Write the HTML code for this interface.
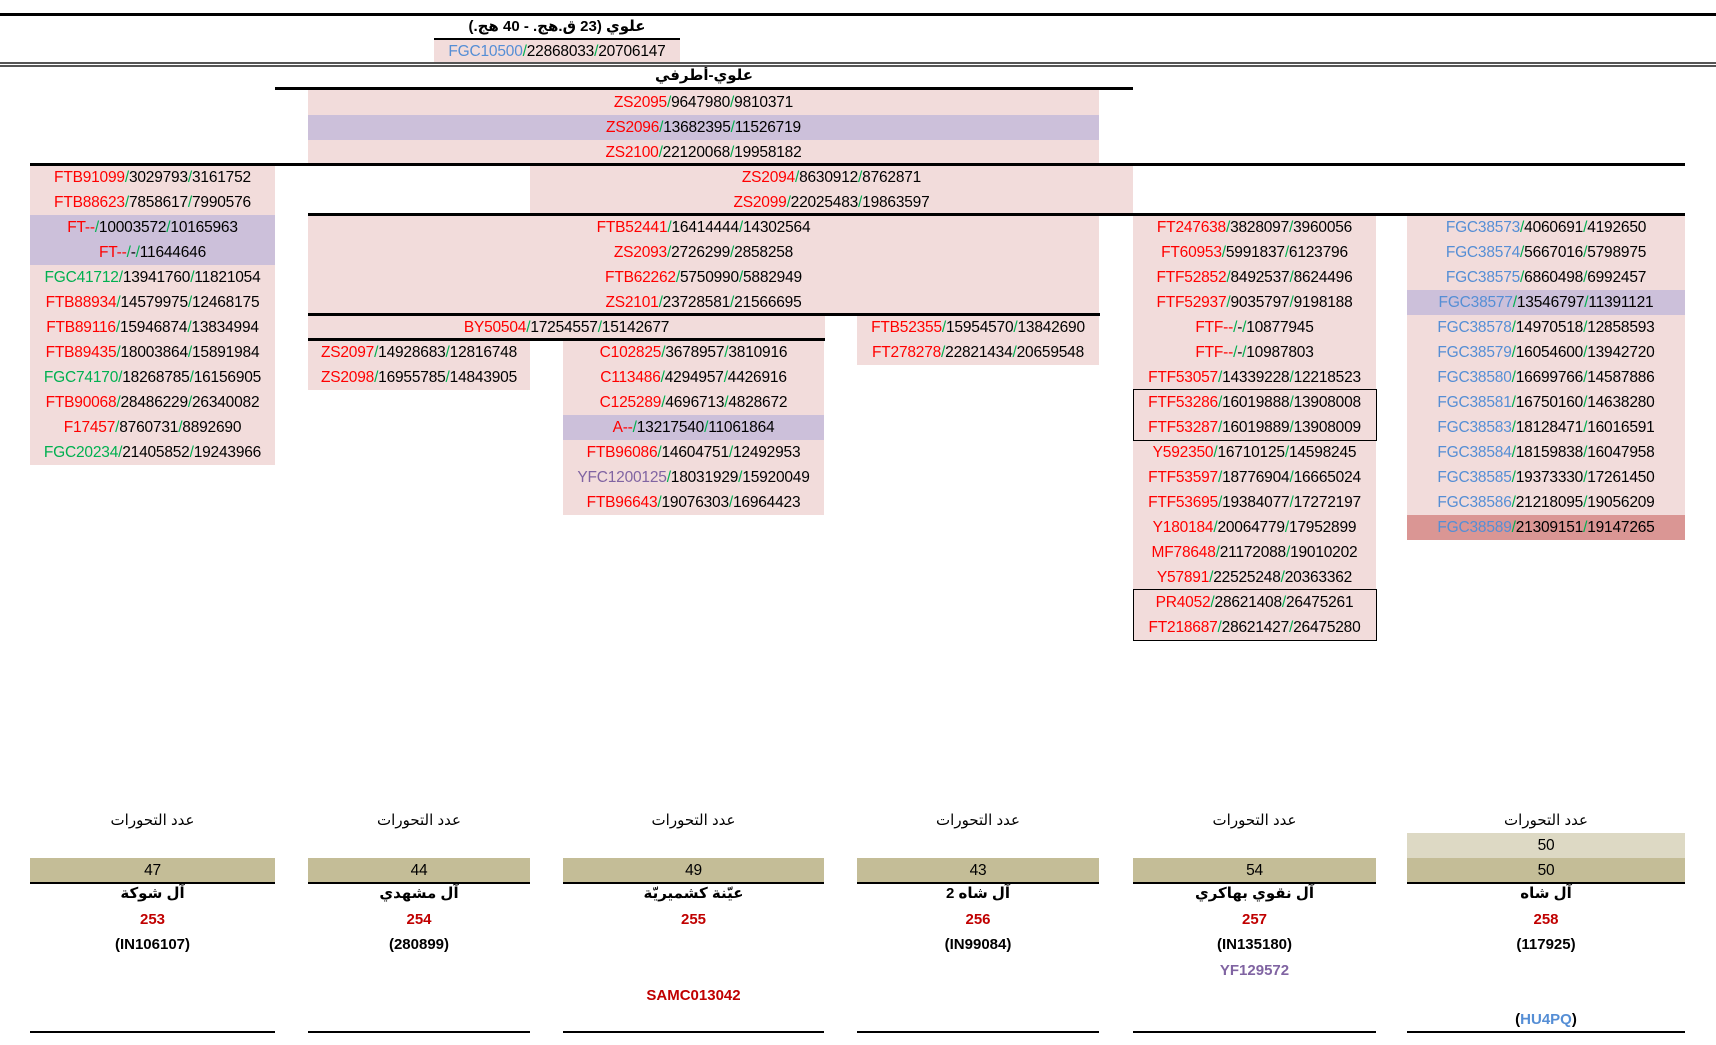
<!DOCTYPE html>
<html><head><meta charset="utf-8"><style>
body{margin:0;width:1716px;height:1045px;background:#fff;position:relative;overflow:hidden;font-family:"Liberation Sans",sans-serif;}
.c{position:absolute;height:25px;line-height:25px;text-align:center;font-size:15.5px;color:#000;white-space:nowrap;background:#f2dcdb;letter-spacing:-0.2px}
.p{background:#ccc0da}.d{background:#da9694}.w{background:transparent}
b{font-weight:normal;color:#ff0000}b.u{color:#558ed5}b.v{color:#8064a2}
i{font-style:normal;color:#00b050}
.k1{left:30px;width:245px}.k2{left:308px;width:222px}.k3{left:563px;width:261px}.k4{left:857px;width:242px}.k5{left:1133px;width:243px}.k6{left:1407px;width:278px}
.L{position:absolute;background:#000;height:3px;z-index:2}
.t{position:absolute;text-align:center;font-weight:bold;font-size:15px;white-space:nowrap;font-family:"Liberation Sans","DejaVu Sans",sans-serif}
.bx{position:absolute;border:1.5px solid #000;box-sizing:border-box;z-index:2}
</style></head><body>
<div class="L" style="left:0;top:13px;width:1716px"></div>
<div class="t" style="left:434px;width:246px;top:16px;line-height:22px">علوي (23 ق.هج. - 40 هج.)</div>
<div class="L" style="left:434px;top:38px;width:246px;height:2px"></div>
<div class="c" style="left:434px;width:246px;top:40px;height:23px;line-height:23px"><b class=u>FGC10500</b><i>/</i>22868033<i>/</i>20706147</div>
<div class="L" style="left:0;top:62px;width:1716px;height:1.5px;background:#555"></div>
<div class="L" style="left:0;top:65px;width:1716px;height:1.5px;background:#555"></div>
<div class="t" style="left:275px;width:858px;top:65px;line-height:22px">علوي-أطرفي</div>
<div class="L" style="left:275px;top:87px;width:858px"></div>

<div class="c" style="left:308px;width:791px;top:90px"><b>ZS2095</b><i>/</i>9647980<i>/</i>9810371</div>
<div class="c p" style="left:308px;width:791px;top:115px"><b>ZS2096</b><i>/</i>13682395<i>/</i>11526719</div>
<div class="c" style="left:308px;width:791px;top:140px"><b>ZS2100</b><i>/</i>22120068<i>/</i>19958182</div>
<div class="L" style="left:30px;top:163px;width:1655px"></div>
<div class="c" style="left:530px;width:603px;top:165px"><b>ZS2094</b><i>/</i>8630912<i>/</i>8762871</div>
<div class="c" style="left:530px;width:603px;top:190px"><b>ZS2099</b><i>/</i>22025483<i>/</i>19863597</div>
<div class="L" style="left:308px;top:213px;width:1377px"></div>
<div class="c" style="left:308px;width:791px;top:215px"><b>FTB52441</b><i>/</i>16414444<i>/</i>14302564</div>
<div class="c" style="left:308px;width:791px;top:240px"><b>ZS2093</b><i>/</i>2726299<i>/</i>2858258</div>
<div class="c" style="left:308px;width:791px;top:265px"><b>FTB62262</b><i>/</i>5750990<i>/</i>5882949</div>
<div class="c" style="left:308px;width:791px;top:290px"><b>ZS2101</b><i>/</i>23728581<i>/</i>21566695</div>
<div class="L" style="left:308px;top:313px;width:792px"></div>
<div class="c" style="left:308px;width:517px;top:315px"><b>BY50504</b><i>/</i>17254557<i>/</i>15142677</div>
<div class="L" style="left:308px;top:338px;width:517px"></div>

<div class="c k1" style="top:165px"><b>FTB91099</b><i>/</i>3029793<i>/</i>3161752</div>
<div class="c k1" style="top:190px"><b>FTB88623</b><i>/</i>7858617<i>/</i>7990576</div>
<div class="c k1 p" style="top:215px"><b>FT--</b><i>/</i>10003572<i>/</i>10165963</div>
<div class="c k1 p" style="top:240px"><b>FT--</b><i>/</i>-<i>/</i>11644646</div>
<div class="c k1" style="top:265px"><b style="color:#00b050">FGC41712</b><i>/</i>13941760<i>/</i>11821054</div>
<div class="c k1" style="top:290px"><b>FTB88934</b><i>/</i>14579975<i>/</i>12468175</div>
<div class="c k1" style="top:315px"><b>FTB89116</b><i>/</i>15946874<i>/</i>13834994</div>
<div class="c k1" style="top:340px"><b>FTB89435</b><i>/</i>18003864<i>/</i>15891984</div>
<div class="c k1" style="top:365px"><b style="color:#00b050">FGC74170</b><i>/</i>18268785<i>/</i>16156905</div>
<div class="c k1" style="top:390px"><b>FTB90068</b><i>/</i>28486229<i>/</i>26340082</div>
<div class="c k1" style="top:415px"><b>F17457</b><i>/</i>8760731<i>/</i>8892690</div>
<div class="c k1" style="top:440px"><b style="color:#00b050">FGC20234</b><i>/</i>21405852<i>/</i>19243966</div>

<div class="c k2" style="top:340px"><b>ZS2097</b><i>/</i>14928683<i>/</i>12816748</div>
<div class="c k2" style="top:365px"><b>ZS2098</b><i>/</i>16955785<i>/</i>14843905</div>

<div class="c k3" style="top:340px"><b>C102825</b><i>/</i>3678957<i>/</i>3810916</div>
<div class="c k3" style="top:365px"><b>C113486</b><i>/</i>4294957<i>/</i>4426916</div>
<div class="c k3" style="top:390px"><b>C125289</b><i>/</i>4696713<i>/</i>4828672</div>
<div class="c k3 p" style="top:415px"><b>A--</b><i>/</i>13217540<i>/</i>11061864</div>
<div class="c k3" style="top:440px"><b>FTB96086</b><i>/</i>14604751<i>/</i>12492953</div>
<div class="c k3" style="top:465px"><b class=v>YFC1200125</b><i>/</i>18031929<i>/</i>15920049</div>
<div class="c k3" style="top:490px"><b>FTB96643</b><i>/</i>19076303<i>/</i>16964423</div>

<div class="c k4" style="top:315px"><b>FTB52355</b><i>/</i>15954570<i>/</i>13842690</div>
<div class="c k4" style="top:340px"><b>FT278278</b><i>/</i>22821434<i>/</i>20659548</div>

<div class="c k5" style="top:215px"><b>FT247638</b><i>/</i>3828097<i>/</i>3960056</div>
<div class="c k5" style="top:240px"><b>FT60953</b><i>/</i>5991837<i>/</i>6123796</div>
<div class="c k5" style="top:265px"><b>FTF52852</b><i>/</i>8492537<i>/</i>8624496</div>
<div class="c k5" style="top:290px"><b>FTF52937</b><i>/</i>9035797<i>/</i>9198188</div>
<div class="c k5" style="top:315px"><b>FTF--</b><i>/</i>-<i>/</i>10877945</div>
<div class="c k5" style="top:340px"><b>FTF--</b><i>/</i>-<i>/</i>10987803</div>
<div class="c k5" style="top:365px"><b>FTF53057</b><i>/</i>14339228<i>/</i>12218523</div>
<div class="c k5" style="top:390px"><b>FTF53286</b><i>/</i>16019888<i>/</i>13908008</div>
<div class="c k5" style="top:415px"><b>FTF53287</b><i>/</i>16019889<i>/</i>13908009</div>
<div class="c k5" style="top:440px"><b>Y592350</b><i>/</i>16710125<i>/</i>14598245</div>
<div class="c k5" style="top:465px"><b>FTF53597</b><i>/</i>18776904<i>/</i>16665024</div>
<div class="c k5" style="top:490px"><b>FTF53695</b><i>/</i>19384077<i>/</i>17272197</div>
<div class="c k5" style="top:515px"><b>Y180184</b><i>/</i>20064779<i>/</i>17952899</div>
<div class="c k5" style="top:540px"><b>MF78648</b><i>/</i>21172088<i>/</i>19010202</div>
<div class="c k5" style="top:565px"><b>Y57891</b><i>/</i>22525248<i>/</i>20363362</div>
<div class="c k5" style="top:590px"><b>PR4052</b><i>/</i>28621408<i>/</i>26475261</div>
<div class="c k5" style="top:615px"><b>FT218687</b><i>/</i>28621427<i>/</i>26475280</div>
<div class="bx" style="left:1133px;top:389px;width:244px;height:52px"></div>
<div class="bx" style="left:1133px;top:589px;width:244px;height:52px"></div>

<div class="c k6" style="top:215px"><b class=u>FGC38573</b><i>/</i>4060691<i>/</i>4192650</div>
<div class="c k6" style="top:240px"><b class=u>FGC38574</b><i>/</i>5667016<i>/</i>5798975</div>
<div class="c k6" style="top:265px"><b class=u>FGC38575</b><i>/</i>6860498<i>/</i>6992457</div>
<div class="c k6 p" style="top:290px"><b class=u>FGC38577</b><i>/</i>13546797<i>/</i>11391121</div>
<div class="c k6" style="top:315px"><b class=u>FGC38578</b><i>/</i>14970518<i>/</i>12858593</div>
<div class="c k6" style="top:340px"><b class=u>FGC38579</b><i>/</i>16054600<i>/</i>13942720</div>
<div class="c k6" style="top:365px"><b class=u>FGC38580</b><i>/</i>16699766<i>/</i>14587886</div>
<div class="c k6" style="top:390px"><b class=u>FGC38581</b><i>/</i>16750160<i>/</i>14638280</div>
<div class="c k6" style="top:415px"><b class=u>FGC38583</b><i>/</i>18128471<i>/</i>16016591</div>
<div class="c k6" style="top:440px"><b class=u>FGC38584</b><i>/</i>18159838<i>/</i>16047958</div>
<div class="c k6" style="top:465px"><b class=u>FGC38585</b><i>/</i>19373330<i>/</i>17261450</div>
<div class="c k6" style="top:490px"><b class=u>FGC38586</b><i>/</i>21218095<i>/</i>19056209</div>
<div class="c k6 d" style="top:515px"><b class=u>FGC38589</b><i>/</i>21309151<i>/</i>19147265</div>

<div class="c k1 w t" style="top:808px;font-weight:normal">عدد التحورات</div>
<div class="c k2 w t" style="top:808px;font-weight:normal">عدد التحورات</div>
<div class="c k3 w t" style="top:808px;font-weight:normal">عدد التحورات</div>
<div class="c k4 w t" style="top:808px;font-weight:normal">عدد التحورات</div>
<div class="c k5 w t" style="top:808px;font-weight:normal">عدد التحورات</div>
<div class="c k6 w t" style="top:808px;font-weight:normal">عدد التحورات</div>
<div class="c k6" style="top:833px;background:#ddd9c4">50</div>
<div class="c k1" style="top:858px;background:#c4bd97">47</div>
<div class="c k2" style="top:858px;background:#c4bd97">44</div>
<div class="c k3" style="top:858px;background:#c4bd97">49</div>
<div class="c k4" style="top:858px;background:#c4bd97">43</div>
<div class="c k5" style="top:858px;background:#c4bd97">54</div>
<div class="c k6" style="top:858px;background:#c4bd97">50</div>
<div class="L k1" style="top:882px;height:2px"></div>
<div class="L k2" style="top:882px;height:2px"></div>
<div class="L k3" style="top:882px;height:2px"></div>
<div class="L k4" style="top:882px;height:2px"></div>
<div class="L k5" style="top:882px;height:2px"></div>
<div class="L k6" style="top:882px;height:2px"></div>

<div class="t k1" style="top:884px">آل شوكة</div>
<div class="t k2" style="top:884px">آل مشهدي</div>
<div class="t k3" style="top:884px">عيّنة كشميريّة</div>
<div class="t k4" style="top:884px">آل شاه 2</div>
<div class="t k5" style="top:884px">آل نقوي بهاكري</div>
<div class="t k6" style="top:884px">آل شاه</div>
<div class="t k1" style="top:911px;color:#c00000">253</div>
<div class="t k2" style="top:911px;color:#c00000">254</div>
<div class="t k3" style="top:911px;color:#c00000">255</div>
<div class="t k4" style="top:911px;color:#c00000">256</div>
<div class="t k5" style="top:911px;color:#c00000">257</div>
<div class="t k6" style="top:911px;color:#c00000">258</div>
<div class="t k1" style="top:936px">(IN106107)</div>
<div class="t k2" style="top:936px">(280899)</div>
<div class="t k4" style="top:936px">(IN99084)</div>
<div class="t k5" style="top:936px">(IN135180)</div>
<div class="t k6" style="top:936px">(117925)</div>
<div class="t k5" style="top:962px;color:#8064a2">YF129572</div>
<div class="t k3" style="top:987px;color:#c00000">SAMC013042</div>
<div class="t k6" style="top:1011px">(<span style="color:#558ed5">HU4PQ</span>)</div>
<div class="L k1" style="top:1031px;height:2px"></div>
<div class="L k2" style="top:1031px;height:2px"></div>
<div class="L k3" style="top:1031px;height:2px"></div>
<div class="L k4" style="top:1031px;height:2px"></div>
<div class="L k5" style="top:1031px;height:2px"></div>
<div class="L k6" style="top:1031px;height:2px"></div>
</body></html>
